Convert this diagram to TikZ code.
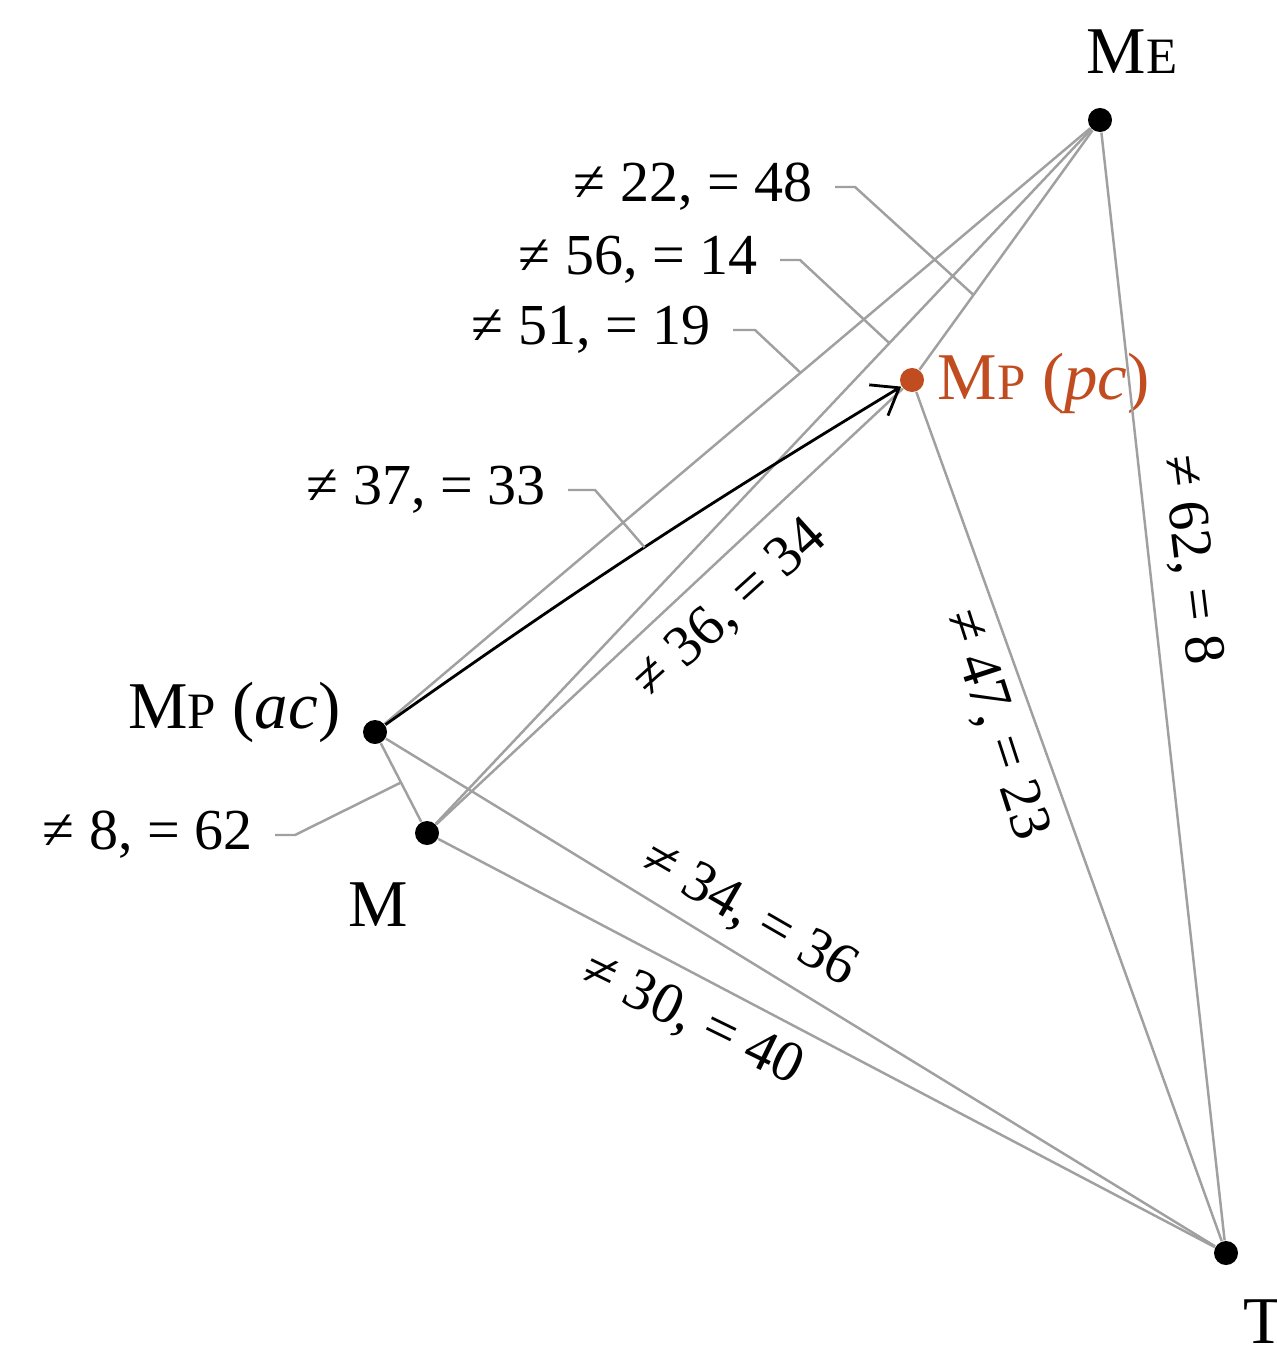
\documentclass[tikz,border=0pt]{standalone}
\usepackage{fontspec}
\setmainfont{Liberation Serif}
\usetikzlibrary{positioning,arrows.meta,calc}
\definecolor{mporange}{RGB}{192,76,32}
\definecolor{edgegray}{RGB}{160,160,160}
\newcommand\smallcap[1]{{\fontsize{14.5}{16}\selectfont #1}}
\tikzset{
  pt/.style={circle, fill=black, inner sep=0pt, minimum size=2.4mm},
  ptlbl/.style={font=\fontsize{19}{22}\selectfont, inner sep=0pt},
  nlbl/.style={font=\fontsize{16.5}{20}\selectfont, inner sep=0pt},
  edge/.style={draw=edgegray, line width=0.7pt},
  lead/.style={draw=edgegray, line width=0.7pt},
  move/.style={-{Straight Barb[length=2.4mm, width=3.6mm]}, line width=0.8pt, black}
}

\begin{document}
\begin{tikzpicture}[x=0.01cm, y=-0.01cm]
  \useasboundingbox (0,0) rectangle (1276,1349);
  % points
  \node[pt] (ME) at (1100,120) {};
  \node[pt, fill=mporange] (MPpc) at (912,380) {};
  \node[pt] (MPac) at (375,732) {};
  \node[pt] (M) at (427,833) {};
  \node[pt] (T) at (1226,1253) {};
  \node[ptlbl] at (1132,52) {M\smallcap{E}};
  \node[ptlbl, text=mporange, anchor=west] at (937,383) {M\smallcap{P} (\textit{pc})};
  \node[ptlbl, anchor=east] at (341,712) {M\smallcap{P} (\textit{ac})};
  \node[ptlbl] at (378,905) {M};
  \node[ptlbl] at (1264,1322) {T};
  % edges
  \draw[edge] (ME) -- (MPac);
  \draw[edge] (ME) -- (M);
  \draw[edge] (ME) -- (MPpc);
  \draw[edge] (ME) -- (T);
  \draw[edge] (MPpc) -- (T);
  \draw[edge] (M) -- (MPpc);
  \draw[edge] (MPac) -- (T);
  \draw[edge] (M) -- (T);
  \draw[edge] (MPac) -- (M);
  \draw[move] (MPac) to[bend left=2] coordinate[pos=.51] (c37) (MPpc);
  % points on edges for the leaders
  \path (ME.center) -- (MPpc.center) coordinate[pos=.673] (c22);
  \path (ME.center) -- (M.center) coordinate[pos=.313] (c56);
  \path (ME.center) -- (MPac.center) coordinate[pos=.413] (c51);
  \path (MPac.center) -- (M.center) coordinate[pos=.5] (c8);
  % labels with leaders
  \node[nlbl, anchor=east] (l22) at (813,187) {≠ 22, = 48};
  \node[nlbl, anchor=east] (l56) at (758,260) {≠ 56, = 14};
  \node[nlbl, anchor=east] (l51) at (711,330) {≠ 51, = 19};
  \node[nlbl, anchor=east] (l37) at (546,490) {≠ 37, = 33};
  \node[nlbl, anchor=east] (l8) at (253,835) {≠ 8, = 62};
  \draw[lead] (l22.east) ++(22,0) -- ++(20,0) -- (c22);
  \draw[lead] (l56.east) ++(22,0) -- ++(20,0) -- (c56);
  \draw[lead] (l51.east) ++(22,0) -- ++(22,0) -- (c51);
  \draw[lead] (l37.east) ++(22,0) -- ++(27,0) -- (c37);
  \draw[lead] (l8.east) ++(22,0) -- ++(20,0) -- (c8);
  % labels along edges
  \node[nlbl, rotate=42] (l36) at (730,610) {≠ 36, = 34};
  \node[nlbl, rotate=-72] (l47) at (995,725) {≠ 47, = 23};
  \node[nlbl, rotate=-83] (l62) at (1190,560) {≠ 62, = 8};
  \node[nlbl, rotate=-30] (l34) at (749,915) {≠ 34, = 36};
  \node[nlbl, rotate=-26] (l30) at (692,1020) {≠ 30, = 40};
\end{tikzpicture}
\end{document}
